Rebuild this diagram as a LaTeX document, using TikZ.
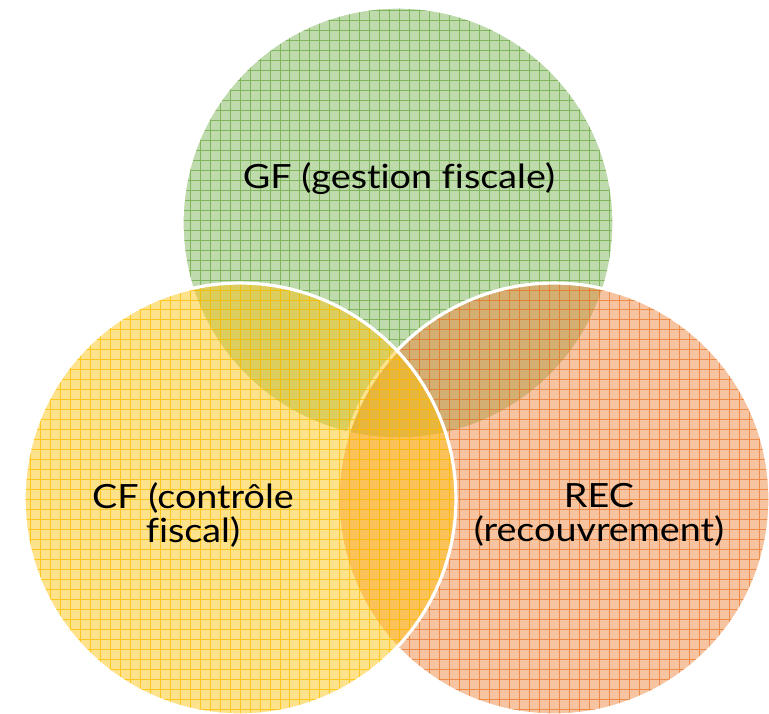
\documentclass[tikz,border=0pt]{standalone}
\usepackage{fontspec}
\setmainfont{Lato}[FakeStretch=1.13,Ligatures=CommonOff]
\definecolor{gfgreen}{HTML}{70AD47}
\definecolor{cfyellow}{HTML}{FFC000}
\definecolor{recorange}{HTML}{ED7D31}
\begin{document}
\begin{tikzpicture}[x=0.02cm,y=-0.02cm]
\tikzset{every node/.style={font=\fontsize{19}{19.5}\selectfont,align=center,text=black,inner sep=0pt},
  venn/.style={opacity=0.45},
  venngrid/.style={opacity=0.8,line width=0.5pt},
  vennborder/.style={draw=white,line width=1.8pt}}
\useasboundingbox (0,0) rectangle (769,714);
\coordinate (gfc) at (398,223);
\coordinate (recc) at (554,499);
\coordinate (cfc) at (240,499);
\foreach \c/\col in {gfc/gfgreen,recc/recorange,cfc/cfyellow} {
  \fill[\col,venn] (\c) circle (4.32cm);
  \begin{scope}
    \clip (\c) circle (4.32cm);
    \draw[\col,venngrid,step=0.2cm] (0,0) grid (769,714);
  \end{scope}
  \draw[vennborder] (\c) circle (4.32cm);
}
\node[anchor=base] (gf) at (399,188) {GF (gestion fiscale)};
\node (cf) at (193,515) {CF (contrôle\\fiscal)};
\node (rec) at (599,515) {REC\\(recouvrement)};
\end{tikzpicture}
\end{document}
